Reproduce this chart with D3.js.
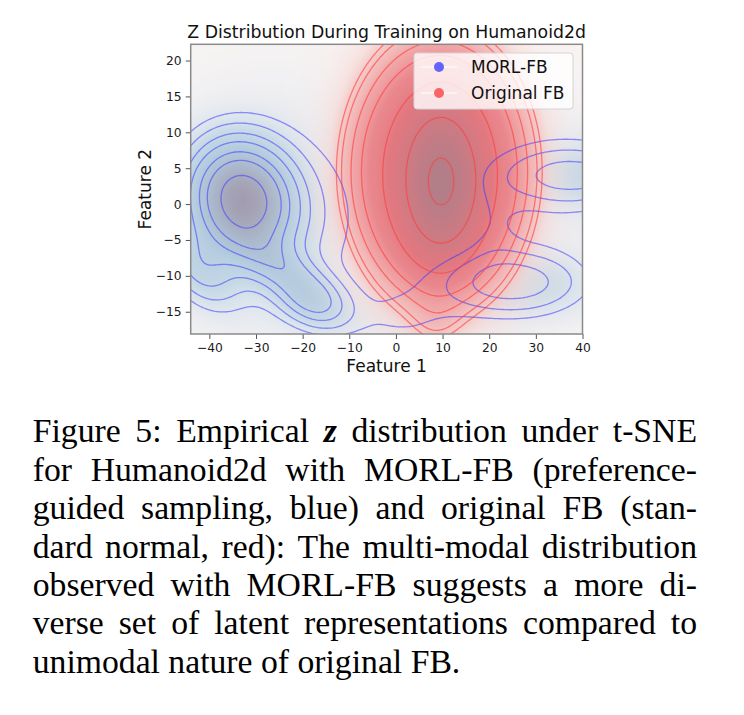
<!DOCTYPE html>
<html><head><meta charset="utf-8">
<script src="https://cdn.jsdelivr.net/npm/d3@7"></script>
<style>
html,body{margin:0;padding:0;background:#fff;}
svg{display:block;}
</style></head><body>
<svg id="chart" width="744" height="715"></svg>
<script>
// ---------------- data ----------------
const chartTitle = "Z Distribution During Training on Humanoid2d";
const xLabel = "Feature 1";
const yLabel = "Feature 2";
const xTicks = [-40, -30, -20, -10, 0, 10, 20, 30, 40];
const yTicks = [-15, -10, -5, 0, 5, 10, 15, 20];
const xDomain = [-44, 40];
const yDomain = [-18.1, 22.26];
const seriesNames = ["MORL-FB", "Original FB"];
// modes of the kernel density estimates: centre, spread, correlation, peak height
const blueModes = [
  {x: -32.8, y: 0.6, sx: 7, sy: 5, rho: -0.1, w: 1.0},
  {x: -24, y: -9, sx: 6, sy: 3, rho: -0.6, w: 0.25},
  {x: -17.5, y: -13.6, sx: 5, sy: 2.5, rho: -0.3, w: 0.29},
  {x: -42, y: -9, sx: 5, sy: 3.5, rho: -0.4, w: 0.2},
  {x: 38, y: 4, sx: 9, sy: 2.2, rho: 0, w: 0.16},
  {x: 36, y: 4, sx: 14, sy: 5, rho: 0, w: 0.15},
  {x: 23.5, y: -10.8, sx: 10, sy: 2.4, rho: 0, w: 0.112},
  {x: 26, y: -11, sx: 11, sy: 3.8, rho: 0, w: 0.206},
  {x: 2, y: -16, sx: 9, sy: 3.5, rho: 0, w: 0.085},
  {x: 21, y: -3, sx: 4, sy: 4, rho: 0, w: 0.05},
  {x: -25, y: -2, sx: 17, sy: 11, rho: 0, w: 0.14}
];
const redModes = [
  {x: 9.7, y: 3, sx: 4.5, sy: 5.5, rho: 0, w: 1.0},
  {x: 9.3, y: 4.5, sx: 11, sy: 10.5, rho: 0, w: 0.38},
  {x: 8.5, y: -17, sx: 4, sy: 3, rho: 0, w: 0.02}
];
// contour levels (blue: density values, red: fraction of the peak)
const blueLevels = [0.902, 0.642, 0.495, 0.347, 0.247, 0.161, 0.102];
const redLevels = [0.87, 0.399, 0.165, 0.088, 0.063, 0.045, 0.037];
const captionLines = [
  "Figure 5: Empirical z distribution under t-SNE",
  "for Humanoid2d with MORL-FB (preference-",
  "guided sampling, blue) and original FB (stan-",
  "dard normal, red): The multi-modal distribution",
  "observed with MORL-FB suggests a more di-",
  "verse set of latent representations compared to",
  "unimodal nature of original FB."
];

// ---------------- layout ----------------
const svg = d3.select("#chart");
const P = {l: 190.7, r: 582.5, t: 44.3, b: 334};
const x = d3.scaleLinear().domain(xDomain).range([P.l, P.r]);
const y = d3.scaleLinear().domain(yDomain).range([P.b, P.t]);
const FONT = "DejaVu Sans, sans-serif";

function mixture(modes) {
  return (px, py) => {
    let s = 0;
    for (const m of modes) {
      const dx = (px - m.x) / m.sx, dy = (py - m.y) / m.sy, r = m.rho;
      const q = (dx * dx - 2 * r * dx * dy + dy * dy) / (1 - r * r);
      s += m.w * Math.exp(-0.5 * q);
    }
    return s;
  };
}
const fBlue = mixture(blueModes), fRed = mixture(redModes);

const step = 0.4, gx0 = -80, gy0 = -55, nx = 390, ny = 300;
function grid(f) {
  const v = new Float64Array(nx * ny);
  for (let j = 0; j < ny; j++) for (let i = 0; i < nx; i++) v[i + j * nx] = f(gx0 + i * step, gy0 + j * step);
  return v;
}
const gBlue = grid(fBlue), gRed = grid(fRed);
const maxBlue = d3.max(gBlue), maxRed = d3.max(gRed);

// ---------------- fill image ----------------
const blueRamp = d3.scaleLinear().domain([0, 0.06, 0.2, 0.4, 0.7, 1])
  .range(["#f8f4f3", "#e8ebf0", "#c6d9e6", "#b3cbdf", "#aab5c9", "#a39db0"]).clamp(true);
const redRamp = d3.scaleLinear().domain([0, 0.025, 0.04, 0.07, 0.11, 0.2, 0.4, 1])
  .range(["#faeeec", "#f7dbd8", "#f4c4c2", "#f0a4a6", "#ea888e", "#e27880", "#cf7a83", "#b27e88"]).clamp(true);
const redAlpha = d3.scaleLinear().domain([0, 0.015, 0.035, 0.06]).range([0, 0.45, 0.9, 1]).clamp(true);

const S = 2;
const cw = Math.round((P.r - P.l) * S), ch = Math.round((P.b - P.t) * S);
const canvas = document.createElement("canvas");
canvas.width = cw; canvas.height = ch;
const ctx = canvas.getContext("2d");
const img = ctx.createImageData(cw, ch);
for (let j = 0; j < ch; j++) {
  const dy = y.invert(P.t + (j + 0.5) / S);
  for (let i = 0; i < cw; i++) {
    const dx = x.invert(P.l + (i + 0.5) / S);
    const tb = fBlue(dx, dy) / maxBlue, tr = fRed(dx, dy) / maxRed;
    const cb = d3.rgb(blueRamp(tb));
    const cr = d3.rgb(redRamp(tr));
    const a = redAlpha(tr);
    const k = (i + j * cw) * 4;
    img.data[k] = cb.r * (1 - a) + cr.r * a;
    img.data[k + 1] = cb.g * (1 - a) + cr.g * a;
    img.data[k + 2] = cb.b * (1 - a) + cr.b * a;
    img.data[k + 3] = 255;
  }
}
ctx.putImageData(img, 0, 0);
svg.append("image").attr("x", P.l).attr("y", P.t)
  .attr("width", P.r - P.l).attr("height", P.b - P.t)
  .attr("preserveAspectRatio", "none")
  .attr("href", canvas.toDataURL());

// ---------------- contours ----------------
svg.append("clipPath").attr("id", "clip").append("rect")
  .attr("x", P.l).attr("y", P.t).attr("width", P.r - P.l).attr("height", P.b - P.t);
const proj = d3.geoTransform({
  point(cx, cy) { this.stream.point(x(gx0 + (cx - 0.5) * step), y(gy0 + (cy - 0.5) * step)); }
});
const path = d3.geoPath(proj);
const gC = svg.append("g").attr("clip-path", "url(#clip)").attr("fill", "none");
gC.selectAll("path.blue")
  .data(d3.contours().size([nx, ny]).thresholds(blueLevels)(gBlue))
  .join("path").attr("class", "blue").attr("d", path)
  .attr("stroke", "#3c3cff").attr("stroke-opacity", 0.55).attr("stroke-width", 1.3);
gC.selectAll("path.red")
  .data(d3.contours().size([nx, ny]).thresholds(redLevels.map(l => l * maxRed))(gRed))
  .join("path").attr("class", "red").attr("d", path)
  .attr("stroke", "#ff3c3c").attr("stroke-opacity", 0.6).attr("stroke-width", 1.3);

// ---------------- axes ----------------
const fmt = d => d < 0 ? "\u2212" + Math.abs(d) : String(d);
const xAxis = svg.append("g").attr("transform", `translate(0,${P.b})`)
  .call(d3.axisBottom(x).tickValues(xTicks).tickFormat(fmt).tickSize(5).tickPadding(4));
const yAxis = svg.append("g").attr("transform", `translate(${P.l},0)`)
  .call(d3.axisLeft(y).tickValues(yTicks).tickFormat(fmt).tickSize(5).tickPadding(4));
[xAxis, yAxis].forEach(a => {
  a.select(".domain").remove();
  a.selectAll(".tick line").attr("stroke", "#555").attr("stroke-width", 1);
  a.selectAll(".tick text").attr("fill", "#1a1a1a").style("font-family", FONT).style("font-size", "12.3px");
});
svg.append("rect").attr("x", P.l).attr("y", P.t).attr("width", P.r - P.l).attr("height", P.b - P.t)
  .attr("fill", "none").attr("stroke", "#8a8a8a").attr("stroke-width", 1.5);

svg.append("text").attr("x", (P.l + P.r) / 2).attr("y", 38.3).attr("text-anchor", "middle")
  .style("font-family", FONT).style("font-size", "17.3px").attr("fill", "#111").text(chartTitle);
svg.append("text").attr("x", (P.l + P.r) / 2).attr("y", 371.5).attr("text-anchor", "middle")
  .style("font-family", FONT).style("font-size", "17px").attr("fill", "#111").text(xLabel);
svg.append("text").attr("transform", `translate(150.5,${(P.t + P.b) / 2}) rotate(-90)`).attr("text-anchor", "middle")
  .style("font-family", FONT).style("font-size", "17px").attr("fill", "#111").text(yLabel);

// ---------------- legend ----------------
const legendColors = ["#6464fa", "#fa6464"];
const lg = svg.append("g");
lg.append("rect").attr("x", 414).attr("y", 53).attr("width", 159).attr("height", 56).attr("rx", 3)
  .attr("fill", "#fff").attr("fill-opacity", 0.8).attr("stroke", "#d4d4d4").attr("stroke-width", 1);
seriesNames.forEach((n, i) => {
  const cy = 67 + i * 26;
  lg.append("line").attr("x1", 421).attr("x2", 457).attr("y1", cy).attr("y2", cy)
    .attr("stroke", "#fff").attr("stroke-opacity", 0.7).attr("stroke-width", 1.5);
  lg.append("circle").attr("cx", 439).attr("cy", cy).attr("r", 5).attr("fill", legendColors[i]);
  lg.append("text").attr("x", 471).attr("y", cy + 6.3).style("font-family", FONT).style("font-size", "17px")
    .attr("fill", "#111").text(n);
});

// ---------------- caption (justified) ----------------
const capLeft = 32.7, capRight = 697, capBase = 442.3, capLead = 38.4, capSize = 33.7;
const capG = svg.append("g").style("font-family", "Liberation Serif, Times New Roman, serif")
  .style("font-size", capSize + "px").attr("fill", "#000");
const measured = captionLines.map((line, li) => {
  const words = line.split(" ");
  return words.map(w => {
    const t = capG.append("text").attr("y", capBase + li * capLead).text(w);
    if (w === "z") t.style("font-style", "italic").style("font-weight", "bold");
    return {node: t, w: t.node().getComputedTextLength()};
  });
});
const spaceW = capSize * 0.25;
const natural = measured.map(ws => d3.sum(ws, d => d.w) + spaceW * (ws.length - 1));
const sxCap = Math.min(1, (capRight - capLeft) / d3.max(natural.slice(0, -1)));
capG.attr("transform", `translate(${capLeft},0) scale(${sxCap},1)`);
const target = (capRight - capLeft) / sxCap;
measured.forEach((ws, li) => {
  const last = li === measured.length - 1;
  const total = d3.sum(ws, d => d.w);
  const gap = last ? spaceW : (target - total) / (ws.length - 1);
  let cx = 0;
  ws.forEach(d => { d.node.attr("x", cx); cx += d.w + gap; });
});
</script>
</body></html>
